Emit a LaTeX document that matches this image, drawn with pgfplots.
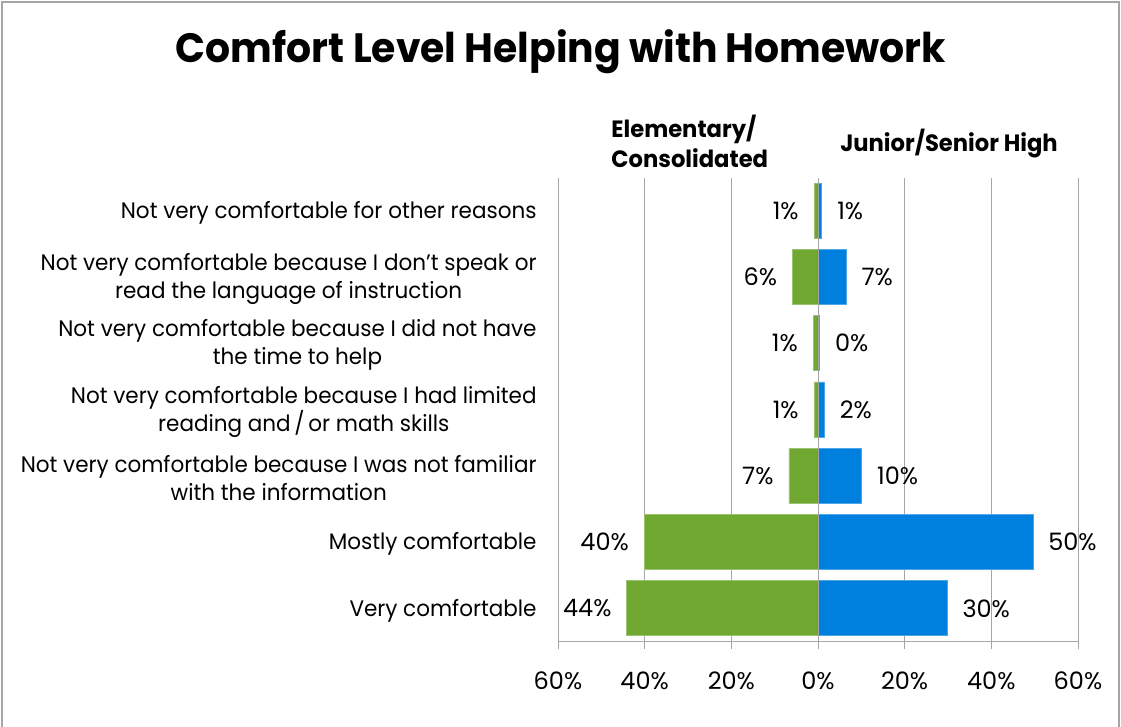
\documentclass[border=0pt]{standalone}
\usepackage{fontspec}
\setmainfont{Poppins}[FakeStretch=0.96]
\newfontfamily\numfam{Poppins}
\usepackage{pgfplots}
\pgfplotsset{compat=1.18}
\definecolor{elemgreen}{RGB}{112,168,50}
\definecolor{highblue}{RGB}{0,128,222}
\definecolor{gridgray}{RGB}{166,166,166}
\newcommand{\catfont}{\fontsize{11.2}{14}\selectfont}
\newcommand{\numfont}{\numfam\fontsize{12}{13}\selectfont}
\newcommand{\headfont}{\bfseries\fontsize{11.8}{14}\selectfont}
\begin{document}
\begin{tikzpicture}
\useasboundingbox (0,0) rectangle (560.5pt,-363.5pt);
\draw[gridgray, line width=1pt] (1pt,-1pt) rectangle (559.5pt,-380pt);
\node[font=\bfseries\fontsize{20.5}{24}\selectfont, anchor=base] at (280.5pt,-31.5pt) {Comfort Level Helping with Homework};
\node[font=\headfont, anchor=base west, inner sep=0pt] at (305.5pt,-69pt) {Elementary/};
\node[font=\headfont, anchor=base west, inner sep=0pt] at (305.5pt,-84pt) {Consolidated};
\node[font=\headfont, anchor=base, inner sep=0pt] at (474.5pt,-76pt) {Junior/Senior High};
\begin{axis}[
  at={(279pt,-320.75pt)}, anchor=south west,
  scale only axis, width=260pt, height=232pt,
  xmin=-60, xmax=60, ymin=-0.5, ymax=6.5,
  enlargelimits=false,
  axis lines*=left,
  axis line style={gridgray},
  xmajorgrids,
  major grid style={gridgray},
  tick align=outside,
  major tick length=4pt,
  xtick style={gridgray},
  ytick style={draw=none},
  xtick={-60,-40,...,60},
  xticklabels={60\%,40\%,20\%,0\%,20\%,40\%,60\%},
  ytick={0,...,6},
  yticklabels={
    {Very comfortable},
    {Mostly comfortable},
    {Not very comfortable because I was not familiar\\with the information},
    {Not very comfortable because I had limited\\reading and\,/\,or math skills},
    {Not very comfortable because I did not have\\the time to help},
    {Not very comfortable because I don't speak or\\read the language of instruction},
    {Not very comfortable for other reasons}},
  /pgf/number format/assume math mode=true,
  xticklabel style={font=\numfont, inner sep=0pt, yshift=-11pt},
  yticklabel style={font=\catfont, align=center, inner sep=0pt, xshift=-6.5pt, yshift=-1pt},
]
\addplot[xbar, bar width=0.83, bar shift=0pt, fill=elemgreen, draw=elemgreen!70!white,
  point meta=explicit symbolic, nodes near coords,
  every node near coord/.append style={anchor=east, inner sep=0pt, xshift=-7.5pt, font=\numfont, text=black}]
coordinates {(-44.1,0) [44\%] (-40.1,1) [40\%] (-6.7,2) [7\%] (-0.9,3) [1\%] (-1.1,4) [1\%] (-5.9,5) [6\%] (-0.9,6) [1\%]};
\addplot[xbar, bar width=0.83, bar shift=0pt, fill=highblue, draw=highblue!70!white,
  point meta=explicit symbolic, nodes near coords,
  every node near coord/.append style={anchor=west, inner sep=0pt, xshift=7.5pt, font=\numfont, text=black}]
coordinates {(29.8,0) [30\%] (49.6,1) [50\%] (10.1,2) [10\%] (1.5,3) [2\%] (0.4,4) [0\%] (6.5,5) [7\%] (0.9,6) [1\%]};
\addplot[gridgray, line width=0.4pt, forget plot] coordinates {(0,-0.5) (0,6.5)};
\end{axis}
\end{tikzpicture}
\end{document}
